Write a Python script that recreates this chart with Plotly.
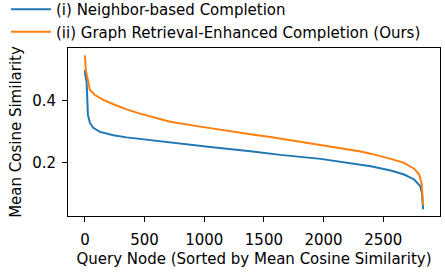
import plotly.graph_objects as go

# Points (query node index, mean cosine similarity)
neighbor_x = [0, 3, 14, 19, 25, 42, 70, 126, 238, 350, 462, 714, 1050, 1387, 1555, 1639, 1975, 2227, 2395, 2563, 2675, 2759, 2809, 2824, 2834]
neighbor_y = [0.500, 0.484, 0.463, 0.409, 0.355, 0.328, 0.312, 0.299, 0.288, 0.281, 0.276, 0.263, 0.250, 0.236, 0.228, 0.224, 0.211, 0.198, 0.187, 0.173, 0.160, 0.144, 0.123, 0.101, 0.047]

graph_x = [0, 3, 8, 14, 25, 42, 84, 154, 238, 350, 448, 546, 714, 966, 1218, 1400, 1555, 1700, 1891, 2059, 2227, 2311, 2395, 2479, 2563, 2675, 2759, 2801, 2821, 2829, 2834]
graph_y = [0.548, 0.511, 0.497, 0.489, 0.463, 0.435, 0.419, 0.403, 0.389, 0.372, 0.360, 0.349, 0.332, 0.316, 0.300, 0.290, 0.282, 0.273, 0.263, 0.252, 0.240, 0.235, 0.228, 0.220, 0.211, 0.198, 0.179, 0.160, 0.133, 0.090, 0.060]

x_ticks = [0, 500, 1000, 1500, 2000, 2500]
y_ticks = [0.2, 0.4]

FONT = "DejaVu Sans"
FS = 15

fig = go.Figure()
fig.add_trace(go.Scatter(x=neighbor_x, y=neighbor_y, mode="lines",
                         name="(i) Neighbor-based Completion",
                         line=dict(color="#1f77b4", width=2)))
fig.add_trace(go.Scatter(x=graph_x, y=graph_y, mode="lines",
                         name="(ii) Graph Retrieval-Enhanced Completion (Ours)",
                         line=dict(color="#ff7f0e", width=2)))

axis_common = dict(showgrid=False, zeroline=False, showline=True, mirror=True,
                   linecolor="black", linewidth=1, ticks="outside", ticklen=5,
                   tickcolor="black", tickwidth=1, automargin=True,
                   tickfont=dict(family=FONT, size=FS, color="black"))

fig.update_layout(
    width=445, height=273,
    margin=dict(l=68, r=5, t=48, b=57, autoexpand=False),
    paper_bgcolor="white", plot_bgcolor="white",
    font=dict(family=FONT, size=FS, color="black"),
    showlegend=True,
    legend=dict(x=-0.1667, y=1.327, xref="paper", yref="paper", xanchor="left", yanchor="top",
                bgcolor="rgba(0,0,0,0)", font=dict(family=FONT, size=FS),
                itemwidth=40, tracegroupgap=0),
    xaxis=dict(range=[-141.7, 2975.7], tickvals=x_ticks,
               ticktext=[str(v) for v in x_ticks], ticklabelstandoff=5,
               title=dict(text="Query Node (Sorted by Mean Cosine Similarity)",
                          font=dict(family=FONT, size=FS), standoff=5),
               **axis_common),
    yaxis=dict(range=[0.025, 0.572], tickvals=y_ticks,
               ticktext=["0.2", "0.4"], ticklabelstandoff=3,
               title=dict(text="Mean Cosine Similarity",
                          font=dict(family=FONT, size=FS), standoff=6),
               **axis_common),
)

fig.write_html("out.html", config={"displayModeBar": False},
               post_script="document.body.style.margin='0';")
